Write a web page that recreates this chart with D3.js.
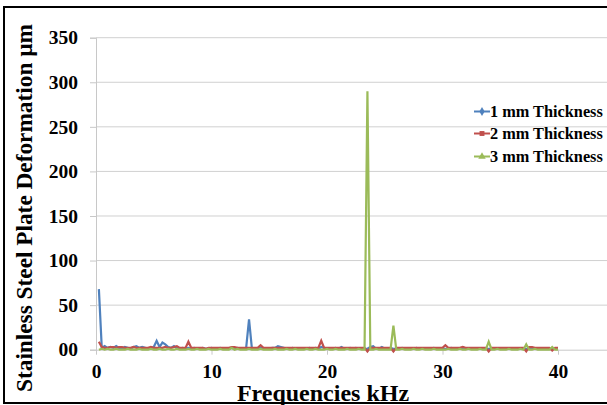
<!DOCTYPE html>
<head>
  <meta charset="utf-8">
  <style>
  body { margin: 0; background: #fff; }
  text { font-family: "Liberation Serif", "Times New Roman", serif; }
  .grid line { stroke: #d0d0d0; }
  .series path { fill: none; stroke-width: 2.2; }
  </style>
  <title>Stainless Steel Plate Deformation</title>
</head>
<body>
  <svg width="607" height="405"></svg>
  <script src="https://d3js.org/d3.v7.min.js"></script>
  <script>
  // frequency (kHz) of every sample
  var freqs = [
    0.25,0.5,0.75,1,1.25,1.5,1.75,2,2.25,2.5,2.75,3,3.25,3.5,3.75,4,4.25,4.5,4.75,5,
    5.25,5.5,5.75,6,6.25,6.5,6.75,7,7.25,7.5,7.75,8,8.25,8.5,8.75,9,9.25,9.5,9.75,10,
    10.25,10.5,10.75,11,11.25,11.5,11.75,12,12.25,12.5,12.75,13,13.25,13.5,13.75,14,14.25,14.5,14.75,15,
    15.25,15.5,15.75,16,16.25,16.5,16.75,17,17.25,17.5,17.75,18,18.25,18.5,18.75,19,19.25,19.5,19.75,20,
    20.25,20.5,20.75,21,21.25,21.5,21.75,22,22.25,22.5,22.75,23,23.25,23.5,23.75,24,24.25,24.5,24.75,25,
    25.25,25.5,25.75,26,26.25,26.5,26.75,27,27.25,27.5,27.75,28,28.25,28.5,28.75,29,29.25,29.5,29.75,30,
    30.25,30.5,30.75,31,31.25,31.5,31.75,32,32.25,32.5,32.75,33,33.25,33.5,33.75,34,34.25,34.5,34.75,35,
    35.25,35.5,35.75,36,36.25,36.5,36.75,37,37.25,37.5,37.75,38,38.25,38.5,38.75,39,39.25,39.5,39.75,40
  ];

  var thick1mm = [
    68,2,4,2,3,2,4,2,1,3,2,1,3,4,2,3,2,1,2,3,
    10,3,8,6,3,2,4,2,1,2,1,2,1,2,1,1,2,1,1,2,
    1,1,2,1,1,1,2,1,2,1,1,2,34,1,1,1,2,1,1,1,
    2,2,4,3,2,1,1,2,1,1,1,1,1,2,1,2,1,3,2,1,
    1,1,2,1,3,1,1,2,1,2,1,1,1,1,3,4,1,1,3,1,
    1,2,1,1,1,2,1,1,1,1,2,1,1,1,1,1,2,1,1,1,
    1,1,2,1,1,1,1,1,1,1,1,1,1,1,1,1,1,1,1,1,
    1,1,1,1,1,1,1,1,1,1,1,1,1,1,1,1,1,1,1,1
  ];

  var thick2mm = [
    9,3,2,2,3,3,2,3,3,2,2,2,3,2,2,2,2,2,3,2,
    2,2,2,3,2,2,3,4,2,2,2,9,2,2,2,2,2,1,2,2,
    2,2,2,2,2,2,3,3,2,2,2,2,2,2,2,2,5,2,2,2,
    2,2,2,2,2,2,2,2,2,2,2,2,2,2,2,2,2,10,2,2,
    2,2,2,2,2,2,2,2,2,2,2,2,2,-2,2,2,2,2,2,2,
    2,2,-2,2,2,2,2,2,2,2,2,2,2,2,2,2,2,2,2,2,
    5,2,2,2,2,2,3,2,2,2,2,2,2,2,2,-2,2,2,2,2,
    2,2,2,2,2,2,2,2,-2,3,3,2,2,2,2,2,2,-1,2,2
  ];

  var thick3mm = [
    0,1,0,1,0,0,1,0,0,0,1,0,0,0,1,0,0,0,1,0,
    0,1,0,0,1,0,0,1,0,0,0,1,0,0,1,0,0,0,1,0,
    0,0,1,0,0,0,2,0,1,0,0,0,1,0,0,0,1,0,0,0,
    0,1,0,0,0,1,0,0,1,0,0,0,1,0,0,1,0,0,0,1,
    0,0,1,0,0,0,1,0,0,0,1,0,0,290,0,0,1,0,0,0,
    0,0,27,0,0,1,0,0,0,1,0,0,1,0,0,0,1,0,0,0,
    0,1,0,0,0,1,0,0,1,0,0,0,1,0,0,9,0,0,1,0,
    0,0,1,0,0,0,1,0,6,0,0,1,0,0,0,0,0,3,0,0
  ];

  var seriesNames = ["1 mm Thickness", "2 mm Thickness", "3 mm Thickness"];
  var yTicks = [0, 50, 100, 150, 200, 250, 300, 350];
  var xTicks = [0, 10, 20, 30, 40];

  var colors = ["#4f81bd", "#c0504d", "#9bbb59"];
  var symbols = [d3.symbolDiamond, d3.symbolSquare, d3.symbolTriangle];
  var serif = "'Liberation Serif', 'Times New Roman', serif";

  var svg = d3.select("svg");

  // outer frame
  svg.append("rect")
      .attr("x", 4).attr("y", 7)
      .attr("width", 640).attr("height", 396)
      .attr("fill", "none")
      .attr("stroke", "#000")
      .attr("stroke-width", 2);

  var x = d3.scaleLinear().domain([0, 45]).range([96, 96 + 45 * 11.55]);
  var y = d3.scaleLinear().domain([0, 350]).range([349.7, 37.7]);

  // horizontal grid
  svg.append("g")
      .attr("class", "grid")
    .selectAll("line")
    .data(yTicks.slice(1))
    .enter().append("line")
      .attr("x1", x(0)).attr("x2", 640)
      .attr("y1", function(d) { return y(d); })
      .attr("y2", function(d) { return y(d); });

  var yAxis = svg.append("g")
      .attr("transform", "translate(" + x(0) + ",0)")
      .call(d3.axisLeft(y).tickValues(yTicks).tickSize(6).tickPadding(12)
        .tickFormat(function(d) { return d === 0 ? "00" : d; }));

  var xAxis = svg.append("g")
      .attr("transform", "translate(0," + y(0) + ")")
      .call(d3.axisBottom(x).tickValues(xTicks).tickSize(5).tickPadding(9).tickSizeOuter(0));

  [yAxis, xAxis].forEach(function(ax) {
    ax.attr("font-family", serif);
    ax.select(".domain").attr("stroke", "#c8c8c8");
    ax.selectAll(".tick line").attr("stroke", "#c8c8c8");
    ax.selectAll(".tick text")
        .style("font-family", serif)
        .style("font-weight", "bold")
        .style("font-size", "19.5px")
        .attr("fill", "#000");
  });

  var allSeries = [thick1mm, thick2mm, thick3mm];

  var line = d3.line()
      .x(function(d, i) { return x(freqs[i]); })
      .y(function(d) { return y(d); });

  allSeries.forEach(function(values, s) {
    var g = svg.append("g").attr("class", "series");
    g.append("path")
        .datum(values)
        .attr("stroke", colors[s])
        .attr("d", line);
    g.selectAll("path.m")
        .data(values)
        .enter().append("path")
        .attr("class", "m")
        .attr("fill", colors[s])
        .attr("d", d3.symbol().type(symbols[s]).size(s === 1 ? 28 : 34))
        .attr("transform", function(d, i) {
          return "translate(" + x(freqs[i]) + "," + y(d) + ")";
        });
  });

  // legend
  var legend = svg.append("g").attr("class", "legend")
    .selectAll("g")
    .data(seriesNames)
    .enter().append("g")
      .attr("transform", function(d, i) { return "translate(474," + [111.5, 133.5, 156.5][i] + ")"; });
  legend.append("line")
      .attr("x1", 0).attr("x2", 16)
      .attr("stroke", function(d, i) { return colors[i]; })
      .attr("stroke-width", 2);
  legend.append("path")
      .attr("d", function(d, i) { return d3.symbol().type(symbols[i]).size(24)(); })
      .attr("transform", "translate(8,0)")
      .attr("fill", function(d, i) { return colors[i]; });
  legend.append("text")
      .attr("x", 16).attr("dy", "0.35em")
      .style("font-family", serif)
      .style("font-weight", "bold").style("font-size", "16.3px")
      .text(function(d) { return d; });

  // axis titles
  svg.append("text")
      .attr("x", 323).attr("y", 401)
      .attr("text-anchor", "middle")
      .style("font-family", serif)
      .style("font-weight", "bold").style("font-size", "24px")
      .text("Frequencies kHz");

  svg.append("text")
      .attr("transform", "translate(32,208) rotate(-90)")
      .attr("text-anchor", "middle")
      .style("font-family", serif)
      .style("font-weight", "bold").style("font-size", "23.3px")
      .text("Stainless Steel Plate Deformation µm");
  </script>
</body>
